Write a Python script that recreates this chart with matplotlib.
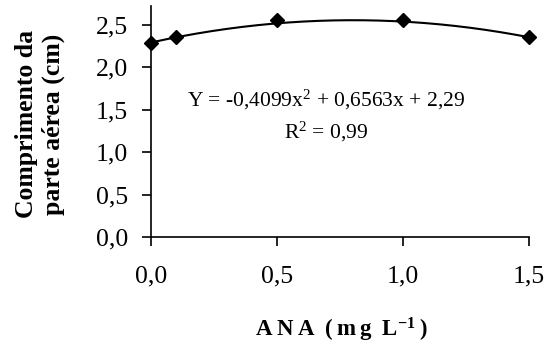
import numpy as np
import matplotlib
matplotlib.use("Agg")
import matplotlib.pyplot as plt

# dados
ana = [0.0, 0.1, 0.5, 1.0, 1.5]
comprimento = [2.29, 2.36, 2.55, 2.55, 2.36]
coef = [-0.4099, 0.6563, 2.29]  # Y = a x^2 + b x + c
xticks = [0.0, 0.5, 1.0, 1.5]
yticks = [0.0, 0.5, 1.0, 1.5, 2.0, 2.5]

plt.rcParams['font.family'] = ['Liberation Serif', 'DejaVu Serif']
plt.rcParams['mathtext.fontset'] = 'custom'
plt.rcParams['mathtext.rm'] = 'Liberation Serif'
plt.rcParams['mathtext.bf'] = 'Liberation Serif:bold'
plt.rcParams['mathtext.default'] = 'rm'

fig = plt.figure(figsize=(5.48, 3.46), dpi=100)
ax = fig.add_axes([151 / 548, 109 / 346, 378 / 548, 231 / 346])

# curva de tendencia
xs = np.linspace(0, 1.5, 200)
ax.plot(xs, np.polyval(coef, xs), color='black', lw=1.5, clip_on=False)
ax.plot(ana, comprimento, 'D', color='black', markersize=7.5, clip_on=False)

ax.set_xlim(0, 1.5)
ax.set_ylim(0, 2.72)
ax.set_xticks(xticks)
ax.set_yticks(yticks)
ax.set_xticklabels([f"{v:.1f}".replace('.', ',') for v in xticks], fontsize=18.5)
ax.set_yticklabels([f"{v:.1f}".replace('.', ',') for v in yticks], fontsize=18.5)
ax.tick_params(axis='x', direction='out', length=6.5, width=1.2, pad=14)
ax.tick_params(axis='y', direction='out', length=6.5, width=1.2, pad=10)

for s in ['top', 'right']:
    ax.spines[s].set_visible(False)
for s in ['left', 'bottom']:
    ax.spines[s].set_linewidth(1.2)

ax.text(0.694, 1.533, 'Y = -0,4099x$^2$ + 0,6563x + 2,29', ha='center',
        va='baseline', fontsize=15.5)
ax.text(0.694, 1.167, 'R$^2$ = 0,99', ha='center', va='baseline', fontsize=15.5)

fig.text(40 / 548, 1 - 124 / 346, 'Comprimento da\nparte aérea (cm)',
         rotation=90, ha='center', va='center', multialignment='center',
         fontsize=18.5, fontweight='bold', linespacing=1.25)

ts = '\u2009'
fig.text(341 / 548, 1 - 337 / 346,
         'A' + ts + 'N' + ts + 'A' + ts + ' (' + ts + 'm' + ts + 'g' + ts + ' L$^{\\mathbf{-1}}$' + ts + ')',
         ha='center', va='baseline', fontsize=16.5, fontweight='bold')

fig.savefig('out.png', dpi=100)
